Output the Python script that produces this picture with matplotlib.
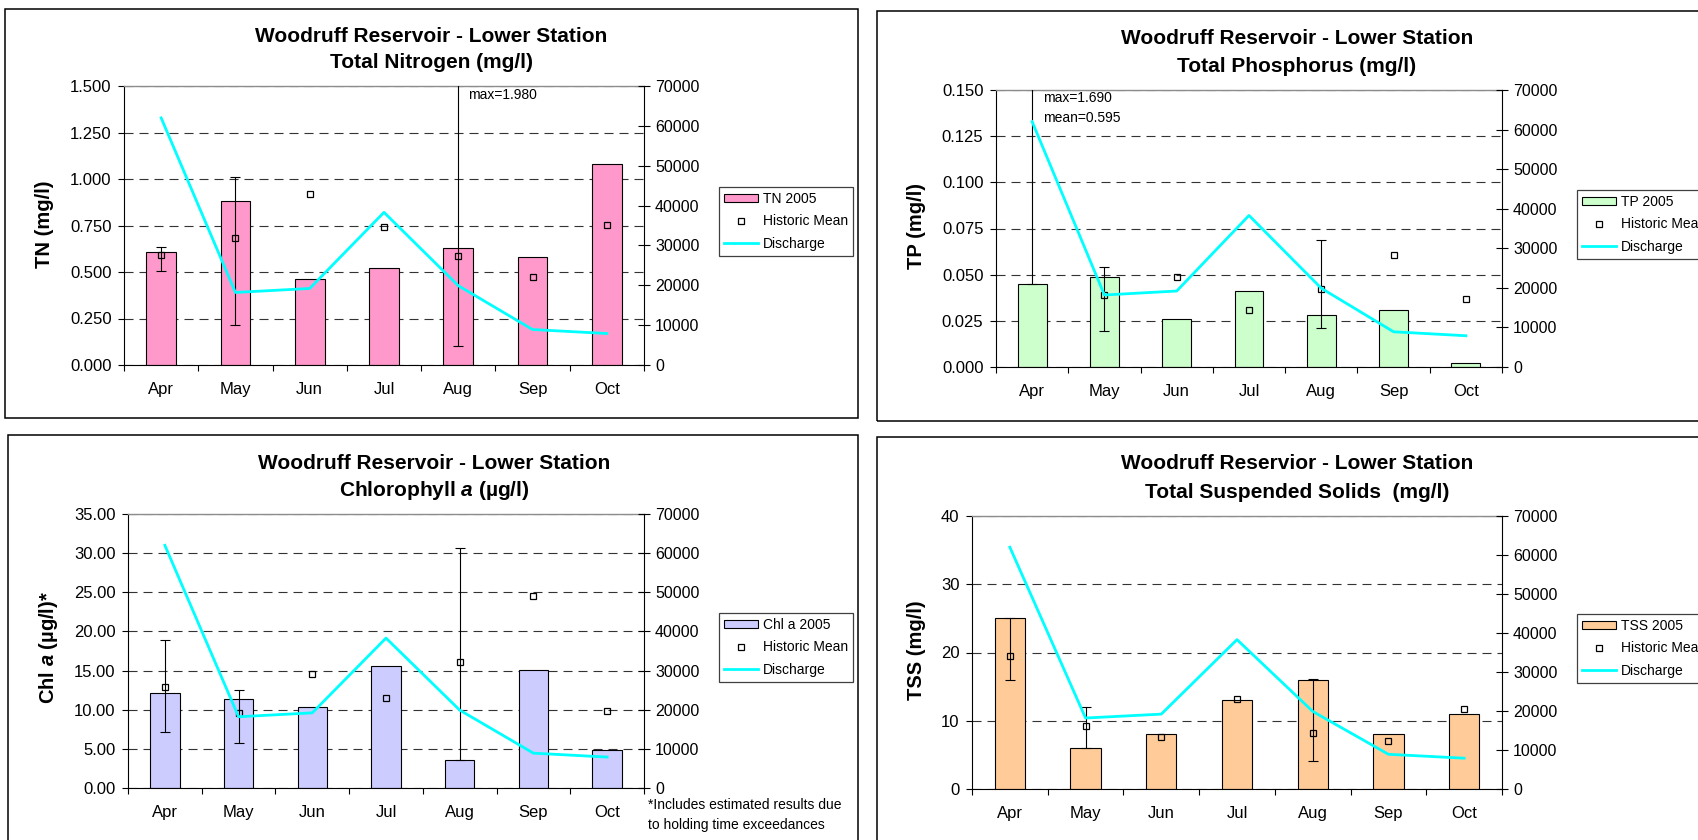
import numpy as np
import matplotlib
matplotlib.use('Agg')
import matplotlib.pyplot as plt
from matplotlib.patches import Rectangle
from matplotlib.ticker import FormatStrFormatter

plt.rcParams['font.family'] = ['Liberation Sans', 'DejaVu Sans']
plt.rcParams['mathtext.fontset'] = 'custom'
plt.rcParams['mathtext.rm'] = 'Liberation Sans'
plt.rcParams['mathtext.bf'] = 'Liberation Sans:bold'
plt.rcParams['mathtext.bfit'] = 'Liberation Sans:bold:italic'
plt.rcParams['lines.scale_dashes'] = False

# data
months = ['Apr', 'May', 'Jun', 'Jul', 'Aug', 'Sep', 'Oct']
discharge = [62000, 18200, 19200, 38300, 19900, 8900, 7900]
nan = np.nan

tn_2005 = [0.61, 0.88, 0.46, 0.52, 0.63, 0.58, 1.08]
tn_mean = [0.59, 0.683, 0.918, 0.74, 0.584, 0.473, 0.753]
tn_lo = [0.504, 0.215, nan, nan, 0.102, nan, nan]
tn_hi = [0.636, 1.013, nan, nan, 1.980, nan, nan]

tp_2005 = [0.045, 0.049, 0.026, 0.041, 0.028, 0.031, 0.002]
tp_mean = [0.595, 0.0388, 0.0487, 0.0309, 0.0424, 0.0606, 0.0366]
tp_lo = [0.045, 0.0197, nan, nan, 0.0211, nan, nan]
tp_hi = [1.690, 0.054, nan, nan, 0.069, nan, nan]

chl_2005 = [12.16, 11.31, 10.29, 15.62, 3.54, 15.02, 4.91]
chl_mean = [12.89, 9.52, 14.55, 11.52, 16.05, 24.5, 9.86]
chl_lo = [7.21, 5.72, nan, nan, 3.54, nan, nan]
chl_hi = [18.86, 12.46, nan, nan, 30.64, nan, nan]

tss_2005 = [25, 6, 8, 13, 16, 8, 11]
tss_mean = [19.56, 9.17, 7.61, 13.17, 8.15, 7.02, 11.66]
tss_lo = [16.0, 5.95, nan, nan, 4.1, nan, nan]
tss_hi = [25.07, 11.95, nan, nan, 16.05, nan, nan]

W, H = 1698, 840
fig = plt.figure(figsize=(W / 100, H / 100), dpi=100)


def fx(px):
    return px / W


def fy(py):
    return 1 - py / H


def frame(l, t, r, b):
    fig.add_artist(Rectangle((fx(l), fy(b)), (r - l) / W, (b - t) / H,
                             transform=fig.transFigure, fill=False,
                             ec='black', lw=1.1))


def panel(box, vals, mean, lo, hi, color, label, ymax, ystep, fmt,
          title, title_xy, ylabel, ylab_xy, leg_xy):
    l, t, r, b = box
    ax = fig.add_axes([fx(l), fy(b), (r - l) / W, (b - t) / H])
    x = np.arange(len(months))
    bars = ax.bar(x, vals, 0.4, color=color, edgecolor='black', lw=0.8,
                  zorder=2)

    mean = np.array(mean)
    lo = np.array(lo)
    hi = np.array(hi)
    ok = ~np.isnan(lo)
    ax.errorbar(x[ok], mean[ok], yerr=[mean[ok] - lo[ok], hi[ok] - mean[ok]],
                fmt='none', ecolor='black', elinewidth=0.8, capsize=3.3,
                capthick=0.8, zorder=3)
    mk, = ax.plot(x, mean, 's', ms=4.8, mfc='none', mec='black', mew=0.9,
                  zorder=4)

    ax.set_xlim(-0.5, 6.5)
    ax.set_xticks(np.arange(-0.5, 7, 1))
    ax.set_xticklabels([])
    ax.set_xticks(x, minor=True)
    ax.set_xticklabels(months, minor=True)
    ax.tick_params(axis='x', which='major', direction='out', length=4, width=0.8)
    ax.tick_params(axis='x', which='minor', length=0, pad=12, labelsize=12)
    ax.set_ylim(0, ymax)
    ax.set_yticks(np.arange(0, ymax + ystep / 2, ystep))
    ax.yaxis.set_major_formatter(FormatStrFormatter(fmt))
    ax.tick_params(axis='y', direction='out', length=4, width=0.8,
                   labelsize=12, pad=5)
    ax.yaxis.grid(True, linestyle=(0, (6.5, 4.3)), color='0.2', lw=0.8)
    ax.set_axisbelow(True)
    ax.spines['top'].set_color('0.55')
    ax.spines['top'].set_linewidth(1.0)
    ax.spines['right'].set_visible(False)
    ax.spines['left'].set_linewidth(0.8)
    ax.spines['bottom'].set_linewidth(0.8)

    ax2 = ax.twinx()
    ln, = ax2.plot(x, discharge, color='#00FFFF', lw=2)
    ax2.set_ylim(0, 70000)
    ax2.set_yticks(range(0, 70001, 10000))
    ax2.tick_params(axis='y', direction='inout', length=8, width=0.8,
                    labelsize=11.5, pad=4)
    for s in ['top', 'left', 'bottom']:
        ax2.spines[s].set_visible(False)
    ax2.spines['right'].set_linewidth(0.8)

    for line, (cx, cy) in zip(title, title_xy):
        fig.text(fx(cx), fy(cy), line, ha='center', va='center',
                 fontsize=15, fontweight='bold')
    fig.text(fx(ylab_xy[0]), fy(ylab_xy[1]), ylabel, rotation=90,
             ha='center', va='center', fontsize=14.5, fontweight='bold')

    leg = fig.legend([bars, mk, ln], [label, 'Historic Mean', 'Discharge'],
                     loc='upper left', bbox_to_anchor=(fx(leg_xy[0]), fy(leg_xy[1])),
                     fontsize=10, frameon=True, fancybox=False, edgecolor='0.25',
                     framealpha=1, borderpad=0.37, labelspacing=0.6,
                     handlelength=2.45, handleheight=0.55, handletextpad=0.35,
                     borderaxespad=0)
    leg.get_frame().set_linewidth(0.9)
    return ax


# panel frames
frame(5, 9, 858, 418)
frame(877, 11, W + 20, 421)
frame(8, 435, 858, H + 20)
frame(877, 437, W + 20, H + 20)

ax_tn = panel((124, 86, 644, 365), tn_2005, tn_mean, tn_lo, tn_hi, '#FF99CC',
              'TN 2005', 1.5, 0.25, '%.3f',
              ['Woodruff Reservoir - Lower Station', 'Total Nitrogen (mg/l)'],
              [(431, 36), (431, 63)], 'TN (mg/l)', (45, 224), (719, 187))
ax_tn.annotate('max=%.3f' % tn_hi[4], xy=(4, 1.452), xytext=(7, 0),
               textcoords='offset points', va='center', fontsize=10)

ax_tp = panel((996, 90, 1502, 367), tp_2005, tp_mean, tp_lo, tp_hi, '#CCFFCC',
              'TP 2005', 0.15, 0.025, '%.3f',
              ['Woodruff Reservoir - Lower Station', 'Total Phosphorus (mg/l)'],
              [(1297, 38), (1297, 66)], 'TP (mg/l)', (917, 226), (1577, 190))
ax_tp.annotate('max=%.3f' % tp_hi[0], xy=(0, 0.1457), xytext=(8, 0),
               textcoords='offset points', va='center', fontsize=10)
ax_tp.annotate('mean=%.3f' % tp_mean[0], xy=(0, 0.1348), xytext=(8, 0),
               textcoords='offset points', va='center', fontsize=10)

panel((128, 514, 644, 788), chl_2005, chl_mean, chl_lo, chl_hi, '#CCCCFF',
      'Chl a 2005', 35, 5, '%.2f',
      ['Woodruff Reservoir - Lower Station', r'Chlorophyll $\mathbfit{a}$ (µg/l)'],
      [(434, 463), (434, 491)], r'Chl $\mathbfit{a}$ (µg/l)*', (49, 647), (719, 613))
fig.text(fx(648), fy(805), '*Includes estimated results due', va='center', fontsize=10)
fig.text(fx(648), fy(825), 'to holding time exceedances', va='center', fontsize=10)

panel((972, 516, 1502, 789), tss_2005, tss_mean, tss_lo, tss_hi, '#FFCC99',
      'TSS 2005', 40, 10, '%d',
      ['Woodruff Reservior - Lower Station', 'Total Suspended Solids  (mg/l)'],
      [(1297, 463), (1297, 492)], 'TSS (mg/l)', (917, 650), (1577, 614))

fig.savefig('out.png', dpi=100)
